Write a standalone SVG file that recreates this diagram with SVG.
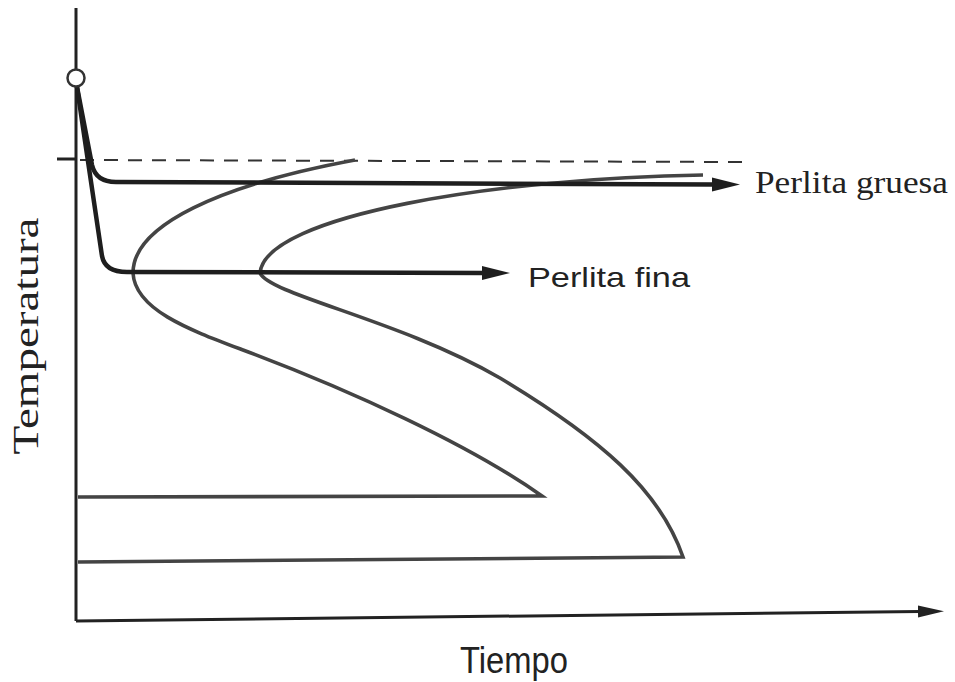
<svg xmlns="http://www.w3.org/2000/svg" width="955" height="682" viewBox="0 0 955 682">
<style>
.axis{stroke:#222;stroke-width:3;fill:none}
.cool{stroke:#1e1e1e;stroke-width:4.5;fill:none;stroke-linejoin:round}
.ccurve{stroke:#444;stroke-width:3.6;fill:none;stroke-linejoin:miter}
.dash{stroke:#333;stroke-width:2;stroke-dasharray:14 10;fill:none}
.serif{font-family:"Liberation Serif","Times New Roman",serif;fill:#222}
.sans{font-family:"Liberation Sans",Arial,sans-serif;fill:#222}
</style>
<defs>
<marker id="ah" markerUnits="userSpaceOnUse" markerWidth="30" markerHeight="16" refX="2" refY="8" orient="auto">
<path d="M0,1 L28,8 L0,15 Z" fill="#1e1e1e"/>
</marker>
<marker id="ax" markerUnits="userSpaceOnUse" markerWidth="30" markerHeight="16" refX="2" refY="8" orient="auto">
<path d="M0,2 L26,8 L0,14 Z" fill="#222"/>
</marker>
</defs>
<rect width="955" height="682" fill="#fff"/>
<g id="axes">
<line class="axis" x1="76" y1="8" x2="76" y2="621"/>
<line class="axis" x1="76" y1="621" x2="920" y2="611.5" marker-end="url(#ax)"/>
<line class="axis" x1="57" y1="159" x2="76" y2="159"/>
<line class="dash" x1="80" y1="160" x2="745" y2="162"/>
</g>
<g id="c-curves">
<path id="start" class="ccurve" d="M355,160 C220,185 133,225 133,273 C135,310 190,330 243,350 C350,390 470,445 542,496 L78,497"/>
<path id="finish" class="ccurve" d="M703,175 C500,178 265,215 260,273 C270,295 400,320 500,378 C600,438 660,490 683,557 L78,562"/>
</g>
<g id="connectors">
<path id="cool1" class="cool" d="M77,87 L92,165 Q96,182 116,182 L714,184.5" marker-end="url(#ah)"/>
<path id="cool2" class="cool" d="M77,87 L102,256 Q105,272 127,272 L484,273" marker-end="url(#ah)"/>
</g>
<g id="start-point">
<circle cx="76" cy="78" r="8.5" fill="#fff" stroke="#333" stroke-width="2.5"/>
</g>
<g id="labels">
<text class="serif" x="755" y="193" font-size="31" textLength="193" lengthAdjust="spacingAndGlyphs">Perlita gruesa</text>
<text class="sans" x="528" y="287" font-size="28" textLength="162" lengthAdjust="spacingAndGlyphs">Perlita fina</text>
<text class="sans" x="460" y="673" font-size="37" textLength="108" lengthAdjust="spacingAndGlyphs">Tiempo</text>
<text class="serif" transform="translate(38,336) rotate(-90)" text-anchor="middle" font-size="35" textLength="237" lengthAdjust="spacingAndGlyphs" fill="#555">Temperatura</text>
</g>
</svg>
